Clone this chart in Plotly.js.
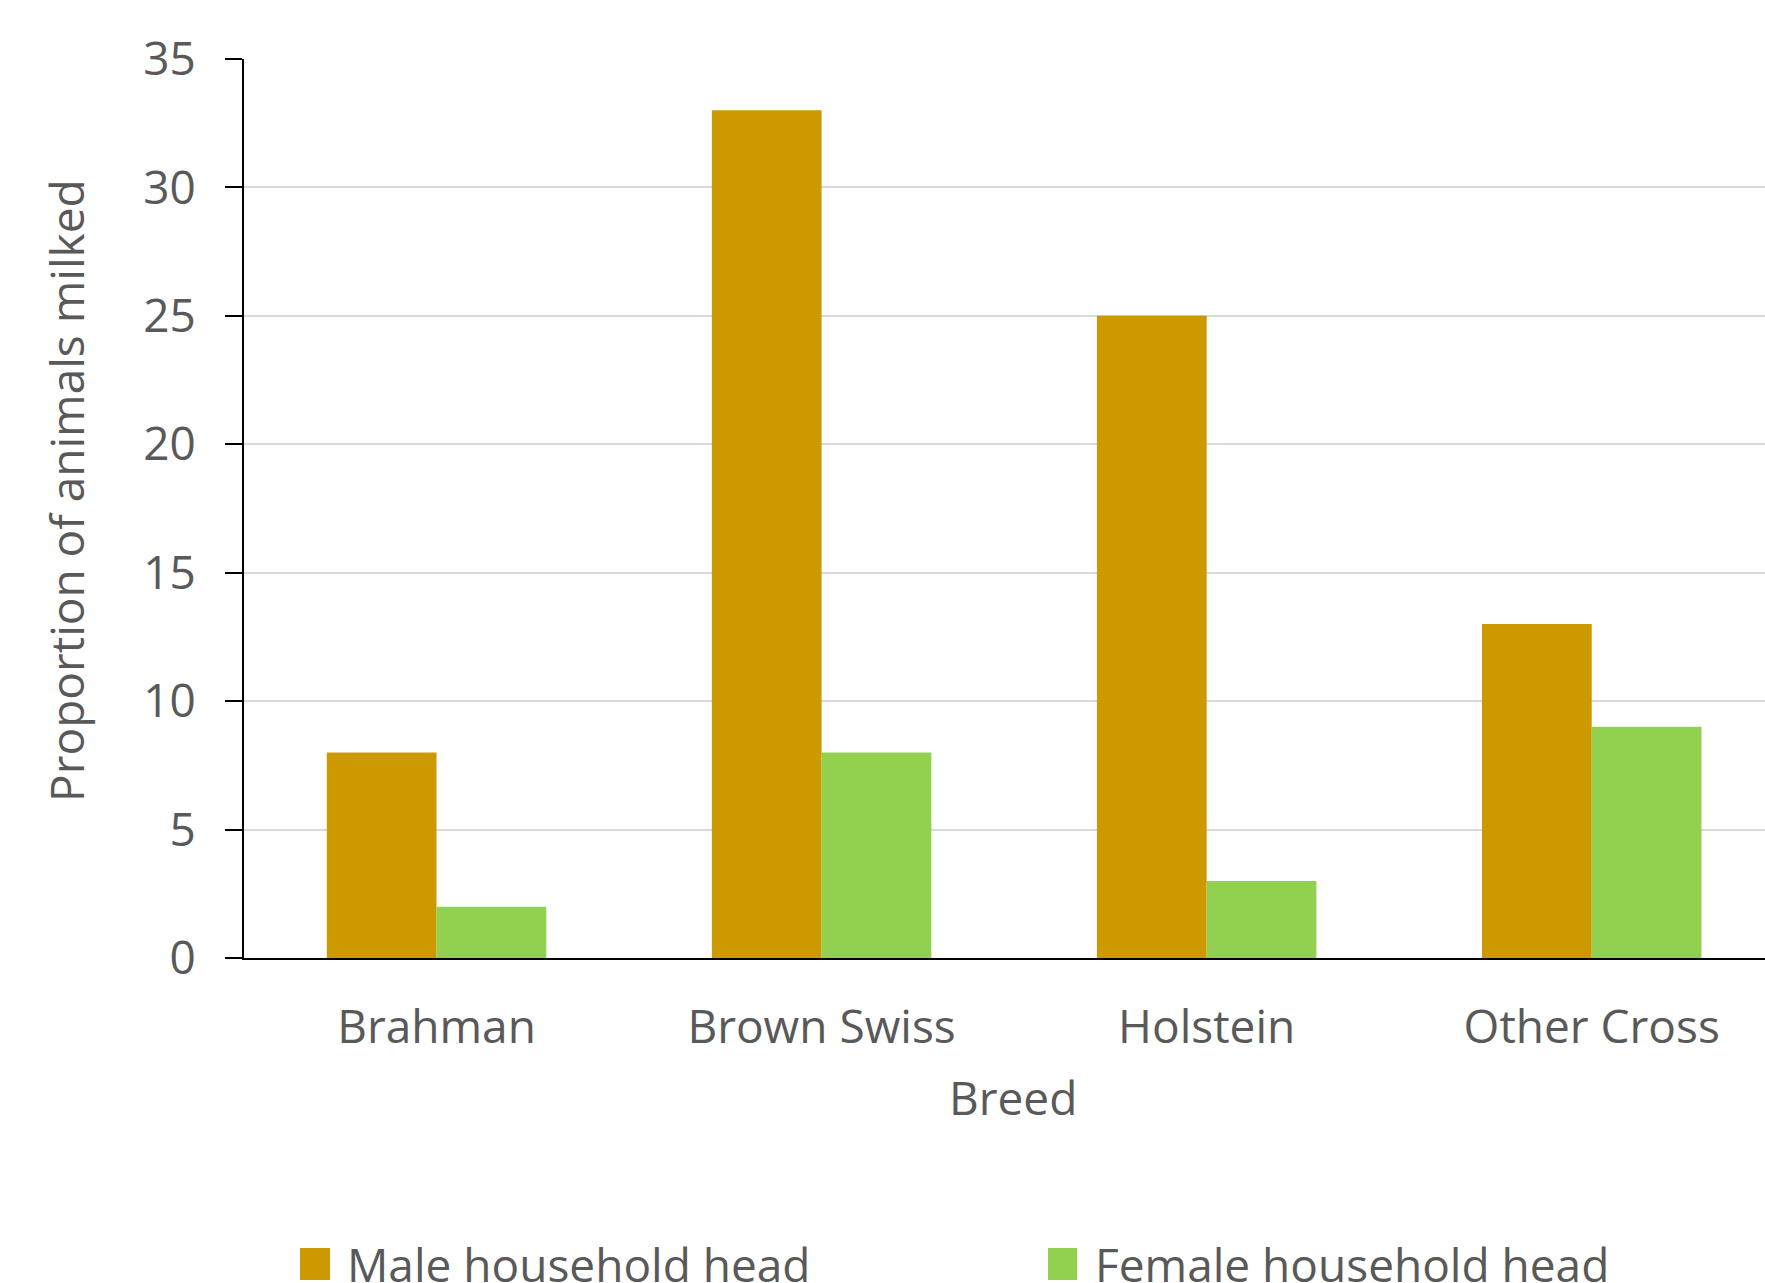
<!DOCTYPE html>
<html>
<head>
<meta charset="utf-8">
<script src="https://cdn.plot.ly/plotly-3.0.1.min.js"></script>
<style>html,body{margin:0;padding:0;background:#fff;}#chart{width:1765px;height:1283px;}</style>
</head>
<body>
<div id="chart"></div>
<script>
const breeds = ["Brahman", "Brown Swiss", "Holstein", "Other Cross"];
const maleValues = [8, 33, 25, 13];
const femaleValues = [2, 8, 3, 9];
const seriesNames = ["Male household head", "Female household head"];
const seriesColors = ["#CC9900", "#92D050"];
const yTickValues = [0, 5, 10, 15, 20, 25, 30, 35];
const xTitle = "Breed";
const yTitle = "Proportion of animals milked";

const W = 1765, H = 1283;
const L = 244, R = 0, T = 59, B = 325;
const pw = W - L - R, ph = H - T - B;
const px = v => (v - L) / pw;
const py = v => (H - B - v) / ph;

const font = "'Open Sans', 'Noto Sans', sans-serif";
const txt = "#595959";

const traces = [
  {type: "bar", x: breeds, y: maleValues, name: seriesNames[0],
   marker: {color: seriesColors[0], line: {width: 0}}, showlegend: false, hoverinfo: "x+y+name"},
  {type: "bar", x: breeds, y: femaleValues, name: seriesNames[1],
   marker: {color: seriesColors[1], line: {width: 0}}, showlegend: false, hoverinfo: "x+y+name"}
];

const legendItems = [
  {x0: 300, x1: 330, tx: 345},
  {x0: 1048, x1: 1077, tx: 1093}
];
const shapes = [], annotations = [];
legendItems.forEach((it, i) => {
  shapes.push({type: "rect", xref: "paper", yref: "paper",
    x0: px(it.x0), x1: px(it.x1), y0: py(1248), y1: py(1280),
    fillcolor: seriesColors[i], line: {width: 0}});
  annotations.push({xref: "paper", yref: "paper", x: px(it.tx), y: py(1264),
    xanchor: "left", yanchor: "middle", showarrow: false, text: seriesNames[i],
    font: {family: font, size: 46, color: txt}});
});
// axis titles
annotations.push({xref: "paper", yref: "paper", x: px(1013), y: py(1097),
  xanchor: "center", yanchor: "middle", showarrow: false, text: xTitle,
  font: {family: font, size: 46, color: txt}});
annotations.push({xref: "paper", yref: "paper", x: px(66), y: py(491),
  xanchor: "center", yanchor: "middle", showarrow: false, text: yTitle, textangle: -90,
  font: {family: font, size: 46, color: txt}});

const layout = {
  width: W, height: H,
  margin: {l: L, r: R, t: T, b: B, pad: 0},
  paper_bgcolor: "#ffffff", plot_bgcolor: "#ffffff",
  barmode: "group", bargap: 0.43, bargroupgap: 0,
  showlegend: false,
  font: {family: font, size: 46, color: txt},
  xaxis: {
    type: "category", range: [-0.5, 3.45], fixedrange: true,
    showline: true, linecolor: "#000000", linewidth: 2,
    ticks: "", showgrid: false, zeroline: false,
    tickfont: {family: font, size: 46, color: txt},
    ticklabelstandoff: 28
  },
  yaxis: {
    range: [0, 35], tickvals: yTickValues, fixedrange: true,
    showline: true, linecolor: "#000000", linewidth: 2,
    ticks: "outside", ticklen: 17, tickwidth: 2, tickcolor: "#000000",
    showgrid: true, gridcolor: "#D9D9D9", gridwidth: 2, zeroline: false,
    tickfont: {family: font, size: 46, color: txt},
    ticklabelstandoff: 20
  },
  shapes: shapes,
  annotations: annotations
};

Plotly.newPlot("chart", traces, layout, {displayModeBar: false, staticPlot: true});
</script>
</body>
</html>
